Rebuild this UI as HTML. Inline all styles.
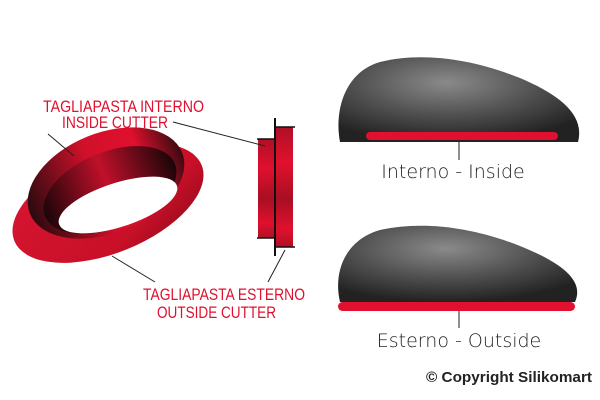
<!DOCTYPE html>
<html><head><meta charset="utf-8"><style>
html,body{margin:0;padding:0;background:#fff;}
svg{display:block}
</style></head><body>
<svg width="600" height="400" viewBox="0 0 600 400" xmlns="http://www.w3.org/2000/svg">
<defs>
<linearGradient id="rg" x1="0" x2="1" y1="0" y2="0">
<stop offset="0" stop-color="#2a0a0e"/><stop offset="0.45" stop-color="#d0102a"/><stop offset="0.75" stop-color="#e0102e"/><stop offset="1" stop-color="#3a0a10"/>
</linearGradient>
<linearGradient id="in" x1="0" x2="1" y1="0" y2="0">
<stop offset="0" stop-color="#1a0508"/><stop offset="0.5" stop-color="#c0102a"/><stop offset="1" stop-color="#1a0508"/>
</linearGradient>
<linearGradient id="fl" x1="0" x2="1" y1="0" y2="1">
<stop offset="0" stop-color="#d81530"/><stop offset="0.7" stop-color="#c81028"/><stop offset="1" stop-color="#8a0a1a"/>
</linearGradient>
<linearGradient id="sv" x1="0" x2="0" y1="0" y2="1">
<stop offset="0" stop-color="#b01025"/><stop offset="0.3" stop-color="#e0102e"/><stop offset="0.6" stop-color="#a80f22"/><stop offset="0.85" stop-color="#e0102e"/><stop offset="1" stop-color="#b01025"/>
</linearGradient>
<radialGradient id="st" cx="0.45" cy="0.3" r="0.7">
<stop offset="0" stop-color="#8a8a8a"/><stop offset="0.5" stop-color="#555"/><stop offset="1" stop-color="#222"/>
</radialGradient>
</defs>
<!-- ring -->
<ellipse cx="108" cy="203" rx="101" ry="50" transform="rotate(-22 108 203)" fill="url(#fl)"/>
<ellipse cx="106" cy="183" rx="82" ry="50" transform="rotate(-22 106 183)" fill="url(#rg)"/>
<ellipse cx="110" cy="190" rx="70" ry="38" transform="rotate(-22 110 190)" fill="url(#in)"/>
<ellipse cx="118" cy="205" rx="62" ry="22" transform="rotate(-18 118 205)" fill="#fff"/>
<!-- side view -->
<rect x="258" y="139" width="17" height="99" fill="url(#sv)"/>
<rect x="276" y="127" width="17" height="120" fill="url(#sv)"/>
<line x1="275" y1="118" x2="275" y2="256" stroke="#111" stroke-width="2"/>
<line x1="275" y1="127" x2="295" y2="127" stroke="#111" stroke-width="1.5"/>
<line x1="275" y1="247" x2="295" y2="247" stroke="#111" stroke-width="1.5"/>
<line x1="257" y1="139" x2="275" y2="139" stroke="#111" stroke-width="1.5"/>
<line x1="257" y1="238" x2="275" y2="238" stroke="#111" stroke-width="1.5"/>
<!-- leader lines -->
<g stroke="#222" stroke-width="1">
<line x1="173" y1="122" x2="265" y2="146"/>
<line x1="48" y1="134" x2="74" y2="156"/>
<line x1="112" y1="256" x2="155" y2="282"/>
<line x1="285" y1="250" x2="268" y2="282"/>
<line x1="459" y1="142" x2="459" y2="160"/>
<line x1="459" y1="311" x2="459" y2="328"/>
</g>
<g font-family="Liberation Sans, sans-serif" fill="#e0102e" font-size="17">
<text x="43" y="112" textLength="161" lengthAdjust="spacingAndGlyphs">TAGLIAPASTA INTERNO</text>
<text x="62" y="128" textLength="106" lengthAdjust="spacingAndGlyphs">INSIDE CUTTER</text>
<text x="143" y="300" textLength="162" lengthAdjust="spacingAndGlyphs">TAGLIAPASTA ESTERNO</text>
<text x="157" y="318" textLength="119" lengthAdjust="spacingAndGlyphs">OUTSIDE CUTTER</text>
</g>
<!-- stones -->
<path d="M340 142 C334 110 345 72 380 62 C420 52 470 58 520 78 C560 95 585 115 578 142 Z" fill="url(#st)"/>
<rect x="366" y="132" width="192" height="8" rx="4" fill="#e0102e"/>
<path d="M340 302 C333 272 345 240 380 230 C420 221 470 226 520 246 C560 262 585 280 575 302 Z" fill="url(#st)"/>
<rect x="338" y="302" width="237" height="9" rx="4.5" fill="#e0102e"/>
<g font-family="DejaVu Sans, sans-serif" font-weight="200" fill="#222" font-size="19" text-anchor="middle">
<text x="453" y="178">Interno - Inside</text>
<text x="459" y="347">Esterno - Outside</text>
</g>
<text x="426" y="382" font-family="Liberation Sans, sans-serif" font-weight="bold" font-size="15" fill="#222" textLength="166" lengthAdjust="spacingAndGlyphs">© Copyright Silikomart</text>
</svg>
</body></html>
